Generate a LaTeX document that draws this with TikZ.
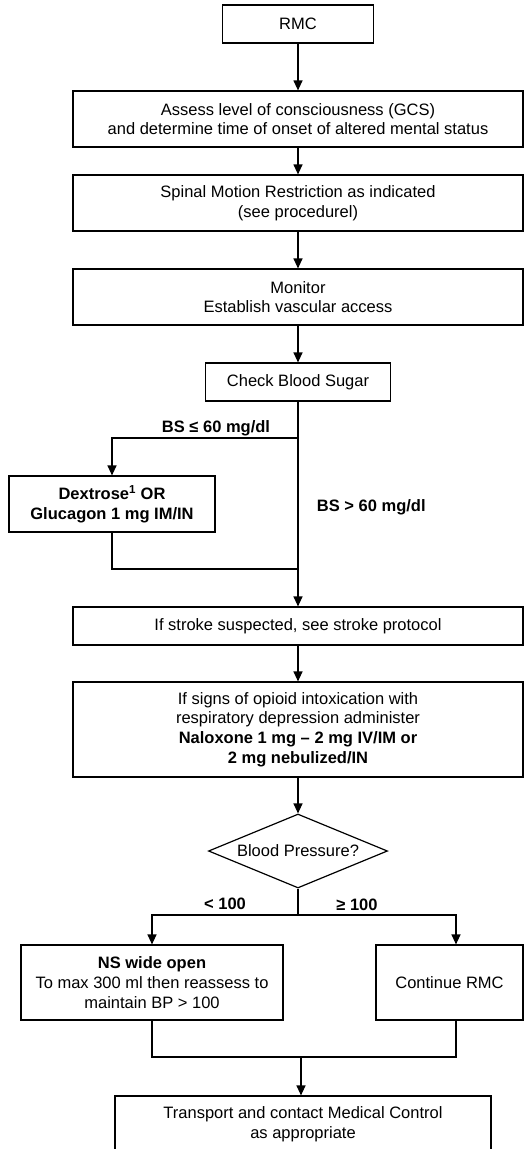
\documentclass[tikz,border=0pt]{standalone}
\usepackage{fontspec}
\setmainfont{Liberation Sans}
\usetikzlibrary{shapes.geometric, arrows.meta, positioning, calc}

\begin{document}
\begin{tikzpicture}[
    x=1pt, y=-1pt,
    font=\fontsize{16.5}{19.8}\selectfont,
    line width=1.2pt,
    stepbox/.style={rectangle, draw, minimum width=#1, inner sep=0pt, align=center},
    flow/.style={-{Triangle[width=9pt,length=10pt]}},
    lbl/.style={font=\fontsize{16.5}{19.8}\selectfont\bfseries},
]
\clip (0,0) rectangle (526,1149);

% main column
\node[stepbox=151pt, minimum height=38pt] (rmc) at (298,24) {RMC};
\node[stepbox=450pt, minimum height=56pt] (assess) at (298,119) {Assess level of consciousness (GCS)\\and determine time of onset of altered mental status};
\node[stepbox=450pt, minimum height=56pt] (spinal) at (298,203) {Spinal Motion Restriction as indicated\\(see procedurel)};
\node[stepbox=450pt, minimum height=56pt] (monitor) at (298,297) {Monitor\\Establish vascular access};
\node[stepbox=185pt, minimum height=38pt] (bsugar) at (298,382) {Check Blood Sugar};

% blood sugar branch
\node[stepbox=206pt, minimum height=56pt, font=\fontsize{16.5}{19.8}\selectfont\bfseries] (dextrose) at (112,504) {Dextrose\textsuperscript{1} OR\\Glucagon 1 mg IM/IN};
\node[lbl] (bslow) at (216,428) {BS ≤ 60 mg/dl};
\node[lbl, anchor=west] (bshigh) at (313,507) {BS > 60 mg/dl};
\coordinate (bsfork) at (298,438);
\coordinate (bsjoin) at (298,569);

\node[stepbox=450pt, minimum height=38pt] (stroke) at (298,626) {If stroke suspected, see stroke protocol};
\node[stepbox=450pt, minimum height=95pt] (naloxone) at (298,729.5) {If signs of opioid intoxication with\\respiratory depression administer\\\textbf{Naloxone 1 mg – 2 mg IV/IM or}\\\textbf{2 mg nebulized/IN}};
\node[diamond, draw, aspect=2.4, minimum width=179pt, minimum height=74pt, inner sep=0pt] (bp) at (298,851) {Blood Pressure?};

% blood pressure branch
\node[lbl] (bplow) at (225,904) {< 100};
\node[lbl] (bphigh) at (357,905) {≥ 100};
\coordinate (bpfork) at (298,915);
\node[stepbox=262pt, minimum height=75pt] (ns) at (152,982.5) {\textbf{NS wide open}\\To max 300 ml then reassess to\\maintain BP > 100};
\node[stepbox=147pt, minimum height=75pt] (cont) at (449.5,982.5) {Continue RMC};
\coordinate (mergeL) at (152,1057);
\coordinate (mergeR) at (456,1057);
\coordinate (join) at (301,1057);
\node[stepbox=376pt, minimum height=56pt] (transport) at (303,1124) {Transport and contact Medical Control\\as appropriate};

% connectors
\draw[flow] (rmc) -- (assess);
\draw[flow] (assess) -- (spinal);
\draw[flow] (spinal) -- (monitor);
\draw[flow] (monitor) -- (bsugar);
\draw[flow] (bsugar.south) -- (stroke.north);
\draw[flow] (bsfork) -| (dextrose.north);
\draw (dextrose.south) |- (bsjoin);
\draw[flow] (stroke) -- (naloxone);
\draw[flow] (naloxone) -- (bp);
\draw (bp.south) -- (bpfork);
\draw[flow] (bpfork) -| (ns.north);
\draw[flow] (bpfork) -| ([xshift=6.5pt]cont.north);
\draw (ns.south) -- (mergeL) -- (mergeR) -- ([xshift=6.5pt]cont.south);
\draw[flow] (join) -- (join |- transport.north);
\end{tikzpicture}
\end{document}
